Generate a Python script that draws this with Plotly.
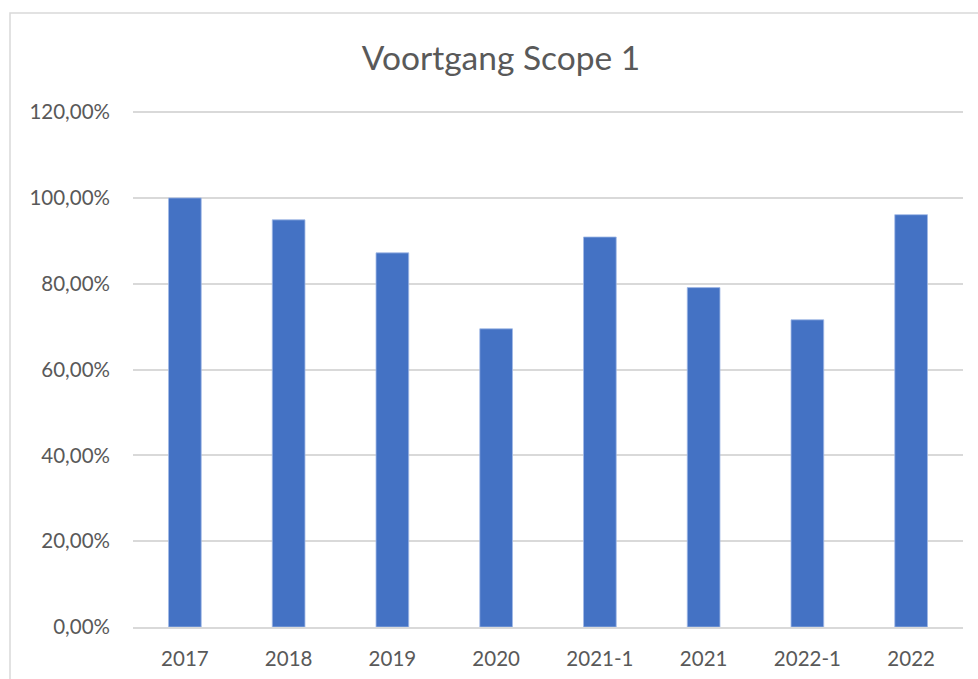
import plotly.graph_objects as go

categories = ["2017", "2018", "2019", "2020", "2021-1", "2021", "2022-1", "2022"]
values = [1.000, 0.949, 0.872, 0.695, 0.909, 0.791, 0.716, 0.961]
y_ticks = [0, 0.2, 0.4, 0.6, 0.8, 1.0, 1.2]
y_tick_labels = ["0,00%", "20,00%", "40,00%", "60,00%", "80,00%", "100,00%", "120,00%"]
title = "Voortgang Scope 1"

FONT = "Lato"
GRAY = "#595959"

fig = go.Figure(
    go.Bar(
        x=categories,
        y=values,
        marker=dict(color="#4472C4", line=dict(color="rgba(160,185,230,0.8)", width=1)),
        width=0.315,
        hoverinfo="x+y",
    )
)

fig.update_layout(
    width=978,
    height=679,
    paper_bgcolor="white",
    plot_bgcolor="white",
    margin=dict(l=133, r=15, t=110, b=52, autoexpand=False),
    showlegend=False,
    title=dict(
        text=title,
        x=501 / 978,
        xref="container",
        xanchor="center",
        y=(679 - 58) / 679,
        yanchor="middle",
        font=dict(family=FONT, size=33.5, color=GRAY),
    ),
    xaxis=dict(
        type="category",
        tickfont=dict(family=FONT, size=20.5, color=GRAY),
        showgrid=False,
        showline=True,
        linecolor="#d9d9d9",
        linewidth=1.5,
        ticks="",
        ticklabelstandoff=13,
        automargin=False,
    ),
    yaxis=dict(
        range=[0, 1.205],
        tickvals=y_ticks,
        ticktext=y_tick_labels,
        tickfont=dict(family=FONT, size=20.5, color=GRAY),
        showgrid=True,
        gridcolor="#d9d9d9",
        gridwidth=1.5,
        zeroline=False,
        showline=False,
        ticks="",
        ticklabelstandoff=22,
        automargin=False,
    ),
    shapes=[
        dict(
            type="rect",
            xref="paper",
            yref="paper",
            x0=(10 - 133) / 830,
            x1=1.2,
            y0=-0.3,
            y1=(627 - 13) / 517,
            line=dict(color="#d9d9d9", width=1.5),
            fillcolor="rgba(0,0,0,0)",
            layer="below",
        )
    ],
)

fig.write_html(
    "out.html",
    config={"displayModeBar": False},
    post_script="document.body.style.margin='0';document.body.style.overflow='hidden';",
)
